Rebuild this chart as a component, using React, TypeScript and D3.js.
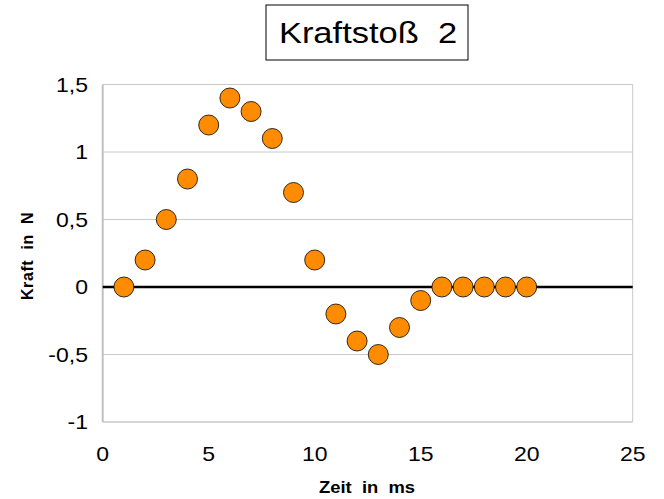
import React from 'react';
import * as d3 from 'd3';

const zeit = [1, 2, 3, 4, 5, 6, 7, 8, 9, 10, 11, 12, 13, 14, 15, 16, 17, 18, 19, 20];
const kraft = [0, 0.2, 0.5, 0.8, 1.2, 1.4, 1.3, 1.1, 0.7, 0.2, -0.2, -0.4, -0.5, -0.3, -0.1, 0, 0, 0, 0, 0];
const xTicks = [0, 5, 10, 15, 20, 25];
const yTicks = [-1, -0.5, 0, 0.5, 1, 1.5];
const title = 'Kraftstoß\u00a0\u00a02';
const xTitle = 'Zeit\u00a0\u00a0in\u00a0\u00a0ms';
const yTitle = 'Kraft\u00a0\u00a0in\u00a0\u00a0N';

const W = 664;
const H = 499;
const font = 'Arial, "Liberation Sans", sans-serif';
// the original text is drawn slightly wider than normal
const stretch = 1.15;

const App: React.FC = () => {
  const x = d3.scaleLinear().domain([0, 25]).range([102.7, 632.7]);
  const y = d3.scaleLinear().domain([-1, 1.5]).range([422, 84.5]);
  const fmt = (v: number) => String(v).replace('.', ',');
  const at = (px: number, py: number) => `translate(${px},${py}) scale(${stretch},1)`;

  return (
    <svg width={W} height={H} style={{ position: 'absolute', left: 0, top: 0, background: '#fff' }}>
      {/* title box */}
      <rect x={266} y={5} width={202} height={55} fill="#fff" stroke="#000" strokeWidth={1} />
      <text transform={at(368, 43)} textAnchor="middle" fontFamily={font} fontSize={30} fill="#000">
        {title}
      </text>

      {/* gridlines */}
      {yTicks.filter(t => t !== 0 && t !== -1).map(t => (
        <line key={t} x1={x(0)} x2={x(25)} y1={y(t)} y2={y(t)} stroke="#c8c8c8" strokeWidth={1} />
      ))}
      {/* plot border */}
      <line x1={x(25)} x2={x(25)} y1={y(1.5)} y2={y(-1)} stroke="#c8c8c8" strokeWidth={1} />
      <line x1={x(0)} x2={x(25)} y1={y(-1)} y2={y(-1)} stroke="#c8c8c8" strokeWidth={1.5} />
      <line x1={x(0)} x2={x(0)} y1={y(1.5)} y2={y(-1)} stroke="#c0c0c0" strokeWidth={2} />
      {/* zero line */}
      <line x1={x(0)} x2={x(25)} y1={y(0)} y2={y(0)} stroke="#000" strokeWidth={2.5} />

      {/* y tick labels */}
      {yTicks.map(t => (
        <text key={t} transform={at(88, y(t) + 7)} textAnchor="end" fontFamily={font} fontSize={20} fill="#000">
          {fmt(t)}
        </text>
      ))}
      {/* x tick labels */}
      {xTicks.map(t => (
        <text key={t} transform={at(x(t), 461)} textAnchor="middle" fontFamily={font} fontSize={20} fill="#000">
          {t}
        </text>
      ))}

      {/* axis titles */}
      <text transform={at(367, 493)} textAnchor="middle" fontFamily={font} fontSize={16} fontWeight="bold" fill="#000">
        {xTitle}
      </text>
      <text transform={`translate(33,256) rotate(-90)`} textAnchor="middle" fontFamily={font} fontSize={16} letterSpacing={0.6} fontWeight="bold" fill="#000">
        {yTitle}
      </text>

      {/* markers */}
      {zeit.map((t, i) => (
        <circle key={t} cx={x(t)} cy={y(kraft[i])} r={10} fill="#ff8c00" stroke="#000" strokeWidth={0.8} />
      ))}
    </svg>
  );
};

export default App;
